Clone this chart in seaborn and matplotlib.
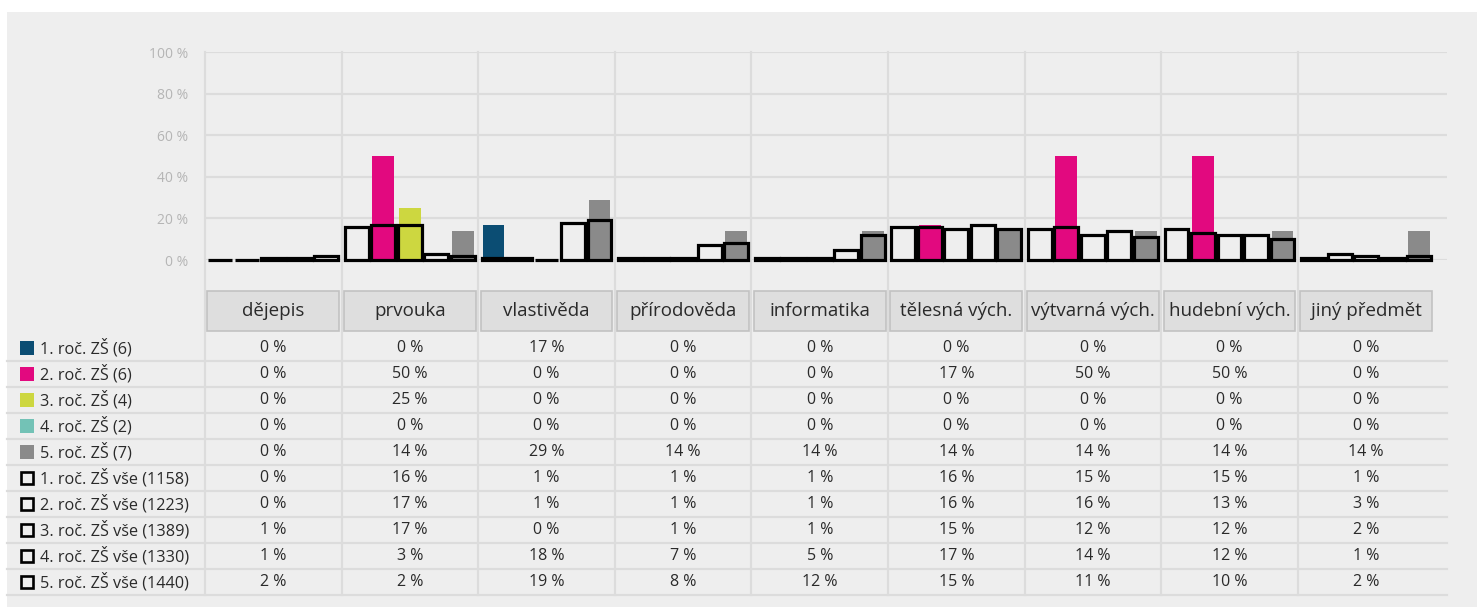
import numpy as np
import pandas as pd
import matplotlib
matplotlib.use("Agg")
import matplotlib.pyplot as plt
import matplotlib.transforms as mtransforms
from matplotlib.patches import Rectangle
from matplotlib.lines import Line2D
import seaborn as sns

# --- data ---
subjects = ["dějepis", "prvouka", "vlastivěda", "přírodověda", "informatika",
            "tělesná vých.", "výtvarná vých.", "hudební vých.", "jiný předmět"]

groups = ["1. roč. ZŠ (6)", "2. roč. ZŠ (6)", "3. roč. ZŠ (4)", "4. roč. ZŠ (2)", "5. roč. ZŠ (7)"]
grp1 = [0, 0, 17, 0, 0, 0, 0, 0, 0]
grp2 = [0, 50, 0, 0, 0, 17, 50, 50, 0]
grp3 = [0, 25, 0, 0, 0, 0, 0, 0, 0]
grp4 = [0, 0, 0, 0, 0, 0, 0, 0, 0]
grp5 = [0, 14, 29, 14, 14, 14, 14, 14, 14]

totals = ["1. roč. ZŠ vše (1158)", "2. roč. ZŠ vše (1223)", "3. roč. ZŠ vše (1389)",
          "4. roč. ZŠ vše (1330)", "5. roč. ZŠ vše (1440)"]
tot1 = [0, 16, 1, 1, 1, 16, 15, 15, 1]
tot2 = [0, 17, 1, 1, 1, 16, 16, 13, 3]
tot3 = [1, 17, 0, 1, 1, 15, 12, 12, 2]
tot4 = [1, 3, 18, 7, 5, 17, 14, 12, 1]
tot5 = [2, 2, 19, 8, 12, 15, 11, 10, 2]

colors = ["#0b4d73", "#e2097f", "#cdd740", "#73c2b6", "#8a8a8a"]
yticks = [0, 20, 40, 60, 80, 100]


def long_df(names, series):
    rows = []
    for name, vals in zip(names, series):
        for s, v in zip(subjects, vals):
            rows.append({"subject": s, "group": name, "value": v})
    return pd.DataFrame(rows)


df_grp = long_df(groups, [grp1, grp2, grp3, grp4, grp5])
df_tot = long_df(totals, [tot1, tot2, tot3, tot4, tot5])

W, H = 1477, 607
BG = "#eeeeee"
GRID = "#dcdcdc"
TXT = "#2a2a2a"
plt.rcParams["font.family"] = ["Open Sans", "DejaVu Sans"]

fig = plt.figure(figsize=(W / 100, H / 100), dpi=100)
fig.patch.set_facecolor("white")
fig.patches.append(Rectangle((7 / W, 0), 1, 1 - 12 / H, transform=fig.transFigure,
                             facecolor=BG, edgecolor="none", zorder=-10))


def fy(ypx):
    return 1 - ypx / H


ax_top, ax_bot, ax_left, ax_right = 52, 260, 205, 1447
ax = fig.add_axes([ax_left / W, fy(ax_bot), (ax_right - ax_left) / W, (ax_bot - ax_top) / H])
ax.set_facecolor("none")

sns.barplot(data=df_grp, x="subject", y="value", hue="group", palette=colors,
            saturation=1, width=0.97, gap=0.17, errorbar=None, legend=False, ax=ax,
            linewidth=0, zorder=3)
sns.barplot(data=df_tot, x="subject", y="value", hue="group", palette=["black"] * 5,
            saturation=1, fill=False, width=0.97, gap=0.1, errorbar=None, legend=False,
            ax=ax, linewidth=2.3, zorder=4)
for p in ax.patches:
    p.set_clip_on(False)

ncat = len(subjects)
cat_w = 136.6
ax.set_xlim(-0.5, -0.5 + (ax_right - ax_left) / cat_w)
ax.set_ylim(0, 100)
ax.set_xticks([])
ax.set_xlabel("")
ax.set_ylabel("")
ax.set_yticks(yticks)
ax.set_yticklabels([f"{t} %" for t in yticks], color="#b5b5b5", fontsize=10)
ax.tick_params(axis="y", length=0, pad=12)
ax.yaxis.grid(True, color=GRID, lw=1.6, zorder=0)
ax.xaxis.grid(False)
ax.set_axisbelow(True)
for sp in ax.spines.values():
    sp.set_visible(False)

# vertical separators running through plot and table
table_bottom = 595
ymin = (ax_bot - table_bottom) / (ax_bot - ax_top)
for i in range(ncat):
    ax.axvline(i - 0.5, ymin=ymin, ymax=1, color=GRID, lw=1.6, zorder=0, clip_on=False)

blend = mtransforms.blended_transform_factory(ax.transData, fig.transFigure)

# header boxes
for i, s in enumerate(subjects):
    fig.patches.append(Rectangle((i - 0.483, fy(331)), 0.966, 40 / H, transform=blend,
                                 facecolor="#dedede", edgecolor="#c2c2c2", lw=1.2, zorder=1))
    fig.text(i, fy(311), s, transform=blend, ha="center", va="center",
             fontsize=13.5, color=TXT)

# table rows
row_names = groups + totals
row_vals = [grp1, grp2, grp3, grp4, grp5, tot1, tot2, tot3, tot4, tot5]
row_h = 26
for k, (name, vals) in enumerate(zip(row_names, row_vals)):
    yc = 348 + row_h * k
    ysep = yc + 13
    fig.add_artist(Line2D([7 / W, ax_right / W], [fy(ysep), fy(ysep)],
                          transform=fig.transFigure, color=GRID, lw=1.6, zorder=0))
    if k < 5:
        fig.patches.append(Rectangle((20 / W, fy(yc + 7)), 14 / W, 14 / H,
                                     transform=fig.transFigure, facecolor=colors[k],
                                     edgecolor="none", zorder=2))
    else:
        fig.patches.append(Rectangle((21 / W, fy(yc + 6)), 12 / W, 12 / H,
                                     transform=fig.transFigure, facecolor="none",
                                     edgecolor="black", lw=1.9, zorder=2))
    fig.text(40 / W, fy(yc), name, ha="left", va="center", fontsize=11.7, color=TXT)
    for i, v in enumerate(vals):
        fig.text(i, fy(yc), f"{v} %", transform=blend, ha="center", va="center",
                 fontsize=11.5, color=TXT)

fig.savefig("out.png", dpi=100, facecolor=fig.get_facecolor())
